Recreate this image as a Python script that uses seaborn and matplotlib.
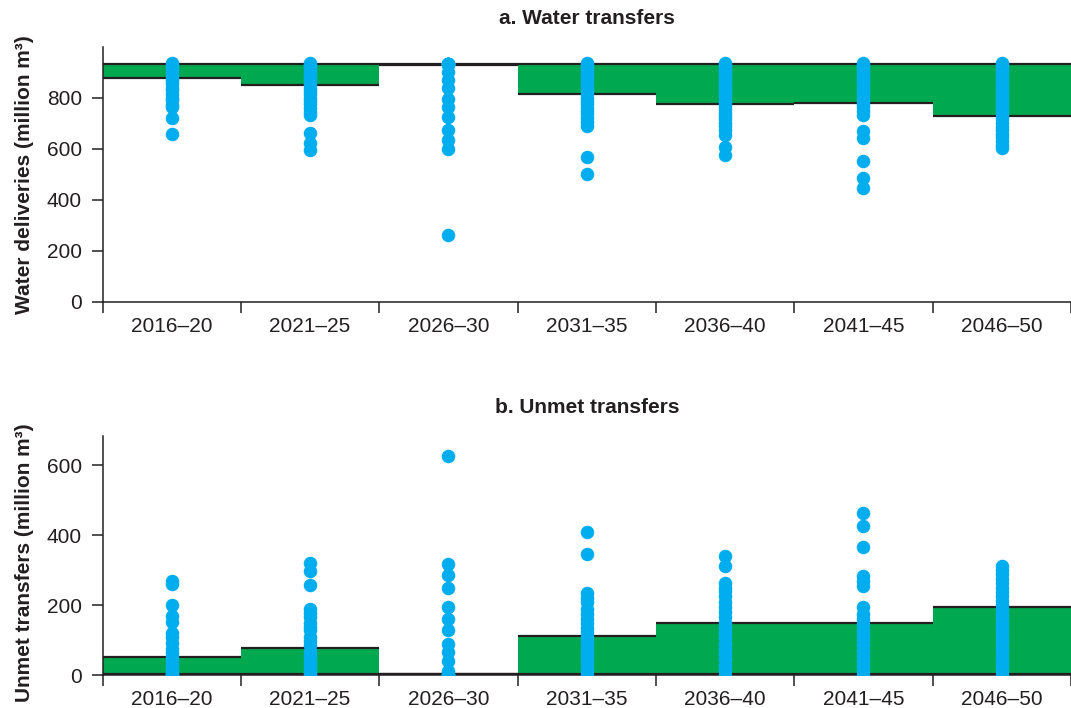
import numpy as np
import pandas as pd
import matplotlib
matplotlib.use("Agg")
import matplotlib.pyplot as plt
import seaborn as sns

periods = ["2016–20", "2021–25", "2026–30", "2031–35", "2036–40", "2041–45", "2046–50"]

# panel a: contracted transfer level and delivered (green band bottom)
contracted = 933
delivered = [878, 851, 929, 814, 774, 780, 729]

# panel b: unmet transfers (green bar heights)
unmet = [52, 76, 3, 111, 150, 148, 193]

# scenario dots, panel a
deliv_dots = [
    [935, 930, 925, 915, 905, 895, 885, 875, 865, 855, 840, 830, 815, 800, 790, 770, 762, 722, 656],
    [935, 930, 922, 912, 900, 890, 878, 865, 852, 840, 828, 815, 800, 788, 775, 760, 745, 732, 660, 622, 595],
    [933, 933, 933, 933, 933, 933, 933, 933, 900, 868, 839, 796, 763, 724, 672, 633, 600, 261],
    [935, 930, 922, 912, 902, 890, 880, 868, 855, 842, 830, 815, 800, 788, 775, 760, 748, 735, 722, 705, 690, 567, 502],
    [935, 928, 920, 910, 900, 890, 880, 868, 855, 842, 830, 818, 805, 792, 780, 768, 755, 740, 728, 718, 700, 688, 672, 655, 607, 574],
    [935, 928, 920, 910, 900, 890, 880, 870, 860, 848, 836, 824, 812, 800, 788, 775, 762, 748, 732, 668, 640, 550, 485, 444],
    [935, 928, 920, 910, 900, 890, 878, 866, 854, 842, 830, 818, 805, 792, 780, 768, 755, 742, 728, 715, 700, 686, 672, 658, 645, 630, 615, 602],
]

# scenario dots, panel b
unmet_dots = [
    [268, 260, 200, 168, 152, 120, 108, 92, 75, 62, 52, 42, 35, 25, 15, 8, 3, 0, 0],
    [320, 296, 258, 190, 178, 165, 150, 138, 128, 110, 98, 85, 70, 58, 48, 35, 22, 12, 5, 0],
    [626, 318, 285, 250, 193, 160, 128, 88, 65, 40, 12, 0, 0, 0, 0, 0],
    [410, 345, 235, 220, 208, 190, 175, 160, 148, 135, 122, 110, 98, 85, 72, 60, 48, 36, 24, 12, 0],
    [340, 312, 262, 250, 240, 225, 210, 195, 180, 165, 150, 135, 120, 105, 90, 75, 60, 45, 30, 15, 0],
    [462, 426, 365, 282, 270, 255, 193, 175, 160, 145, 130, 115, 100, 85, 70, 55, 40, 25, 12, 0],
    [312, 300, 288, 275, 262, 250, 238, 225, 212, 200, 188, 175, 162, 150, 138, 125, 112, 100, 88, 75, 62, 50, 38, 25, 12, 0],
]

green = "#00A94F"
blue = "#00AEEF"
dark = "#231F20"

sns.set_theme(style="ticks")
plt.rcParams["font.family"] = ["Liberation Sans", "DejaVu Sans"]


def long_df(dots):
    rows = []
    for i, vals in enumerate(dots):
        for v in vals:
            rows.append({"pos": i + 0.5, "value": v})
    return pd.DataFrame(rows)


fig = plt.figure(figsize=(10.71, 7.08), dpi=100)
ax1 = fig.add_axes([0.0958, 0.574, 0.9042, 0.360])
ax2 = fig.add_axes([0.0958, 0.0466, 0.9042, 0.3375])

x = np.arange(len(periods))

# panel a
ax1.bar(x, [contracted - d for d in delivered], bottom=delivered, width=1.0,
        align="edge", color=green, linewidth=0, zorder=1)
ax1.axhline(contracted, color=dark, lw=1.6, zorder=2)
ax1.hlines(delivered, x, x + 1, color=dark, lw=1.6, zorder=2)
sns.scatterplot(data=long_df(deliv_dots), x="pos", y="value", ax=ax1,
                color=blue, s=95, linewidth=0, zorder=3, legend=False)
ax1.set_ylim(0, 1000)
ax1.set_yticks([0, 200, 400, 600, 800])

# panel b
ax2.bar(x, unmet, width=1.0, align="edge", color=green, linewidth=0, zorder=1)
ax2.hlines(unmet, x, x + 1, color=dark, lw=1.6, zorder=2)
ax2.axhline(3, color=dark, lw=1.6, zorder=2)
sns.scatterplot(data=long_df(unmet_dots), x="pos", y="value", ax=ax2,
                color=blue, s=95, linewidth=0, zorder=3, legend=False)
ax2.set_ylim(0, 683)
ax2.set_yticks([0, 200, 400, 600])

for ax, title, ylab, ty, ly in [
    (ax1, "a. Water transfers", "Water deliveries (million m³)", 1.112, 0.5),
    (ax2, "b. Unmet transfers", "Unmet transfers (million m³)", 1.12, 0.47),
]:
    ax.set_xlim(0, 6.967)
    ax.set_xticks(np.arange(0, 8))
    ax.set_xticklabels([])
    ax.set_xticks(x + 0.5, minor=True)
    ax.set_xticklabels(periods, minor=True)
    ax.tick_params(axis="x", which="major", length=8, width=1.1, color=dark)
    ax.tick_params(axis="x", which="minor", length=0, labelsize=15, labelcolor=dark, pad=11)
    ax.tick_params(axis="y", length=8, width=1.1, color=dark, labelsize=15, labelcolor=dark, pad=7)
    ax.set_xlabel("")
    ax.set_ylabel(ylab, fontsize=15, fontweight="bold", color=dark)
    ax.yaxis.set_label_coords(-0.071, ly)
    ax.text(0.5, ty, title, transform=ax.transAxes, ha="center", va="center",
            fontsize=15, fontweight="bold", color=dark)
    sns.despine(ax=ax)
    for s in ["left", "bottom"]:
        ax.spines[s].set_color(dark)
        ax.spines[s].set_linewidth(1.1)
    ax.set_facecolor("white")

fig.savefig("out.png", dpi=100, facecolor="white")
